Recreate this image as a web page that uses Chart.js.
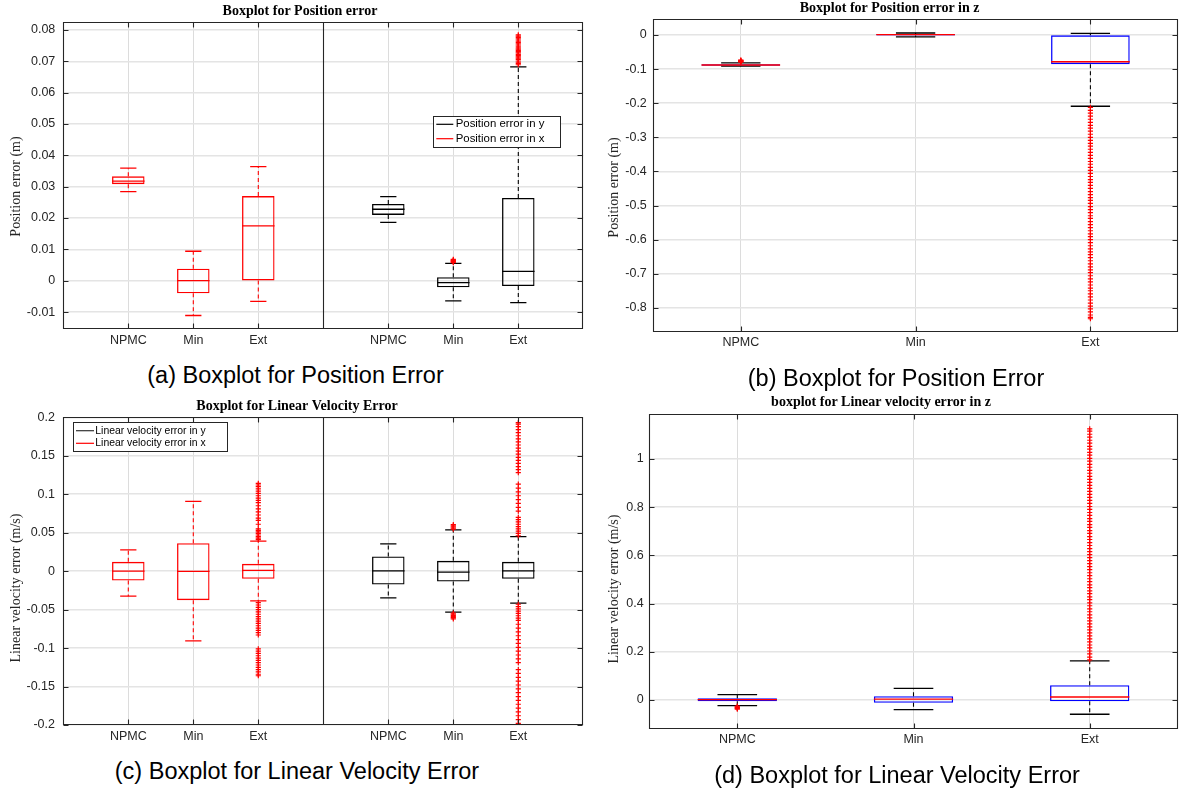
<!DOCTYPE html>
<html>
<head>
<meta charset="utf-8">
<script src="https://cdn.jsdelivr.net/npm/chart.js@4.4.1/dist/chart.umd.min.js"></script>
<style>
  html, body { margin: 0; padding: 0; background: #fff; }
  body { width: 1183px; height: 789px; position: relative; overflow: hidden; }
  canvas { position: absolute; }
  .caption {
    position: absolute; width: 500px; text-align: center; white-space: nowrap;
    font-family: 'Liberation Sans', Arial, Helvetica, sans-serif; font-size: 23.5px;
    line-height: 1; color: #000;
  }
</style>
</head>
<body>
<canvas id="cA" width="590" height="356" style="left:0;top:0"></canvas>
<canvas id="cB" width="593" height="356" style="left:590px;top:0"></canvas>
<canvas id="cC" width="590" height="365" style="left:0;top:390px"></canvas>
<canvas id="cD" width="608" height="365" style="left:575px;top:390px"></canvas>

<div class="caption" style="left:45.5px;top:363.5px">(a) Boxplot for Position Error</div>
<div class="caption" style="left:646px;top:366.5px">(b) Boxplot for Position Error</div>
<div class="caption" style="left:47px;top:759.5px">(c) Boxplot for Linear Velocity Error</div>
<div class="caption" style="left:647px;top:763.5px">(d) Boxplot for Linear Velocity Error</div>

<script>
// ---- Data -------------------------------------------------------------
// Each stats row: [lower whisker, Q1, median, Q3, upper whisker]
const CATEGORIES = ['NPMC', 'Min', 'Ext'];

// Position error (m), x component
const POS_X_STATS = [
  [0.0284, 0.0308, 0.0318, 0.0333, 0.0359],
  [-0.0111, -0.0040, 0.0000, 0.0038, 0.0094],
  [-0.0066, 0.0001, 0.0175, 0.0270, 0.0364]
];
const POS_X_OUTLIERS = [[], [], []];

// Position error (m), y component
const POS_Y_STATS = [
  [0.0186, 0.0210, 0.0228, 0.0245, 0.0268],
  [-0.0064, -0.0021, -0.0006, 0.0011, 0.0055],
  [-0.0070, -0.0017, 0.0030, 0.0264, 0.0682]
];
const POS_Y_OUTLIERS = [
  [],
  [0.0058, 0.0060, 0.0062, 0.0064, 0.0066, 0.0068],
  [0.0689, 0.0693, 0.0697, 0.0701, 0.0706, 0.0710, 0.0714, 0.0718, 0.0722, 0.0727,
   0.0731, 0.0735, 0.0739, 0.0743, 0.0748, 0.0752, 0.0756, 0.0760, 0.0764, 0.0768,
   0.0772, 0.0776, 0.0780, 0.0784]
];

// Position error (m), z component
const POS_Z_STATS = [
  [-0.0915, -0.0905, -0.0880, -0.0855, -0.0815],
  [-0.0058, -0.0018, 0.0008, 0.0030, 0.0058],
  [-0.2090, -0.0855, -0.0785, -0.0010, 0.0048]
];
const POS_Z_OUTLIERS = [
  [-0.0735, -0.0745, -0.0755, -0.0765, -0.0775, -0.0785, -0.0795],
  [],
  [-0.212, -0.221, -0.229, -0.238, -0.247, -0.256, -0.265, -0.273, -0.282, -0.291,
   -0.300, -0.309, -0.318, -0.326, -0.335, -0.344, -0.353, -0.362, -0.371, -0.379,
   -0.388, -0.397, -0.406, -0.415, -0.424, -0.432, -0.441, -0.450, -0.459, -0.468,
   -0.477, -0.485, -0.494, -0.503, -0.512, -0.521, -0.530, -0.538, -0.547, -0.556,
   -0.565, -0.574, -0.583, -0.591, -0.600, -0.609, -0.618, -0.627, -0.636, -0.644,
   -0.653, -0.662, -0.671, -0.680, -0.689, -0.697, -0.706, -0.715, -0.724, -0.733,
   -0.742, -0.750, -0.759, -0.768, -0.777, -0.786, -0.795, -0.803, -0.812, -0.821,
   -0.828, -0.832]
];

// Linear velocity error (m/s), x component
const VEL_X_STATS = [
  [-0.0325, -0.0121, 0.0000, 0.0121, 0.0277],
  [-0.0906, -0.0377, -0.0004, 0.0364, 0.0906],
  [-0.0386, -0.0100, 0.0010, 0.0095, 0.0390]
];
const VEL_X_OUTLIERS = [
  [],
  [],
  [0.041, 0.043, 0.045, 0.047, 0.049, 0.051, 0.053, 0.055, 0.061, 0.066, 0.069, 0.073,
   0.077, 0.081, 0.085, 0.089, 0.092, 0.095, 0.098, 0.101, 0.104, 0.107, 0.110, 0.112, 0.114,
   -0.041, -0.044, -0.047, -0.050, -0.053, -0.056, -0.059, -0.062, -0.065, -0.068, -0.071,
   -0.074, -0.077, -0.080, -0.083, -0.101, -0.104, -0.107, -0.110, -0.113, -0.116, -0.119,
   -0.122, -0.125, -0.128, -0.131, -0.134, -0.136]
];

// Linear velocity error (m/s), y component
const VEL_Y_STATS = [
  [-0.0347, -0.0173, 0.0004, 0.0190, 0.0355],
  [-0.0533, -0.0134, -0.0013, 0.0134, 0.0537],
  [-0.0416, -0.0100, 0.0004, 0.0121, 0.0450]
];
const VEL_Y_OUTLIERS = [
  [],
  [0.0545, 0.0560, 0.0575, 0.0590, 0.0605, -0.0545, -0.0560, -0.0575, -0.0590, -0.0605, -0.0620],
  [0.046, 0.049, 0.052, 0.055, 0.058, 0.061, 0.064, 0.067, 0.070, 0.078, 0.083, 0.088,
   0.093, 0.098, 0.103, 0.108, 0.113, 0.128, 0.132, 0.136, 0.140, 0.144, 0.148, 0.152,
   0.156, 0.160, 0.164, 0.168, 0.172, 0.176, 0.180, 0.184, 0.188, 0.191, 0.193,
   -0.043, -0.046, -0.049, -0.052, -0.055, -0.058, -0.061, -0.064, -0.069, -0.074, -0.079,
   -0.084, -0.089, -0.094, -0.099, -0.104, -0.109, -0.114, -0.119, -0.128, -0.133, -0.138,
   -0.143, -0.148, -0.153, -0.158, -0.163, -0.168, -0.173, -0.178, -0.183, -0.188, -0.193, -0.198]
];

// Linear velocity error (m/s), z component
const VEL_Z_STATS = [
  [-0.0235, -0.0055, 0.0014, 0.0070, 0.0220],
  [-0.0400, -0.0120, 0.0030, 0.0150, 0.0480],
  [-0.0595, -0.0055, 0.0120, 0.0610, 0.1620]
];
const VEL_Z_OUTLIERS = [
  [-0.026, -0.029, -0.032, -0.035, -0.038],
  [],
  [0.166, 0.178, 0.191, 0.203, 0.216, 0.228, 0.241, 0.253, 0.266, 0.278, 0.291, 0.303,
   0.316, 0.328, 0.341, 0.353, 0.366, 0.378, 0.391, 0.403, 0.416, 0.428, 0.441, 0.453,
   0.466, 0.478, 0.491, 0.503, 0.516, 0.528, 0.541, 0.553, 0.566, 0.578, 0.591, 0.603,
   0.616, 0.628, 0.641, 0.653, 0.666, 0.678, 0.691, 0.703, 0.716, 0.728, 0.741, 0.753,
   0.766, 0.778, 0.791, 0.803, 0.816, 0.828, 0.841, 0.853, 0.866, 0.878, 0.891, 0.903,
   0.916, 0.928, 0.941, 0.953, 0.966, 0.978, 0.991, 1.003, 1.016, 1.028, 1.041, 1.053,
   1.066, 1.078, 1.091, 1.103, 1.116, 1.125]
];

// Axis ticks
const Y_TICKS_POS = [-0.01, 0, 0.01, 0.02, 0.03, 0.04, 0.05, 0.06, 0.07, 0.08];
const Y_TICKS_POS_Z = [-0.8, -0.7, -0.6, -0.5, -0.4, -0.3, -0.2, -0.1, 0];
const Y_TICKS_VEL = [-0.2, -0.15, -0.1, -0.05, 0, 0.05, 0.1, 0.15, 0.2];
const Y_TICKS_VEL_Z = [0, 0.2, 0.4, 0.6, 0.8, 1];

// Category slots: split panels put the x-group at 1..3 and the y-group at 5..7
const SLOTS_LEFT = [1, 2, 3];
const SLOTS_RIGHT = [5, 6, 7];

// Legend texts
const LEGEND_POS = ['Position error in y', 'Position error in x'];
const LEGEND_VEL = ['Linear velocity error in y', 'Linear velocity error in x'];

// ---- Styling ------------------------------------------------------------
const SANS = "'Liberation Sans', Arial, Helvetica, sans-serif";
const SERIF = "'Liberation Serif', 'Times New Roman', Times, serif";
const TICK_FONT = { family: SANS, size: 12.5 };
const TITLE_FONT = { family: SERIF, size: 14, weight: 'bold', lineHeight: 1.2 };
const RED = '#ff0000', BLACK = '#000000', BLUE = '#0000ff';

const STYLE_RED = { box: RED, median: RED, whisker: RED, cap: RED, outlier: RED, width: 0.5, cap: RED, capWidth: 0.25 };
const STYLE_BLACK = { box: BLACK, median: BLACK, whisker: BLACK, cap: BLACK, outlier: RED, width: 0.5, capWidth: 0.25 };
const STYLE_DEFAULT = { box: BLUE, median: RED, whisker: BLACK, cap: BLACK, outlier: RED, width: 0.45, capWidth: 0.225 };

// Turn box statistics into Chart.js datasets: floating bars for the boxes,
// line segments for medians / whiskers / caps, cross points for outliers.
function boxDatasets(stats, outliers, slots, st) {
  const half = st.width / 2, capHalf = st.capWidth / 2;
  const boxes = [], med = [], whisk = [], caps = [], pts = [];
  stats.forEach((s, i) => {
    const c = slots[i];
    boxes.push({ x: c, y: [s[1], s[3]] });
    med.push({ x: c - half, y: s[2] }, { x: c + half, y: s[2] }, { x: c, y: null });
    whisk.push({ x: c, y: s[3] }, { x: c, y: s[4] }, { x: c, y: null },
               { x: c, y: s[1] }, { x: c, y: s[0] }, { x: c, y: null });
    caps.push({ x: c - capHalf, y: s[4] }, { x: c + capHalf, y: s[4] }, { x: c, y: null },
              { x: c - capHalf, y: s[0] }, { x: c + capHalf, y: s[0] }, { x: c, y: null });
    (outliers[i] || []).forEach(v => pts.push({ x: c, y: v }));
  });
  const seg = { type: 'line', pointRadius: 0, spanGaps: false, fill: false, tension: 0 };
  return [
    { type: 'scatter', data: pts, pointStyle: 'cross', pointRadius: 2.6,
      pointBorderColor: st.outlier, pointBorderWidth: 1.2, borderColor: st.outlier },
    Object.assign({ data: med, borderColor: st.median, borderWidth: 1.3 }, seg),
    Object.assign({ data: caps, borderColor: st.cap, borderWidth: 1.3 }, seg),
    Object.assign({ data: whisk, borderColor: st.whisker, borderWidth: 1.1, borderDash: [4, 3] }, seg),
    { type: 'bar', data: boxes, borderColor: st.box, backgroundColor: 'rgba(0,0,0,0)',
      borderWidth: 1.3, borderSkipped: false, grouped: false,
      barPercentage: st.width, categoryPercentage: 1 }
  ];
}

// Axes box, divider and inward tick marks
function framePlugin(o) {
  return {
    id: 'frame',
    afterDatasetsDraw(chart) {
      const { ctx, chartArea: a, scales: { x, y } } = chart;
      const L = Math.round(a.left) + 0.5, R = Math.round(a.right) - 0.5;
      const T = Math.round(a.top) + 0.5, B = Math.round(a.bottom) - 0.5;
      ctx.save();
      ctx.strokeStyle = '#262626';
      ctx.lineWidth = 1.1;
      ctx.beginPath();
      ctx.rect(L, T, R - L, B - T);
      if (o.divider != null) {
        const d = Math.round(x.getPixelForValue(o.divider)) + 0.5;
        ctx.moveTo(d, T); ctx.lineTo(d, B);
      }
      y.ticks.forEach(t => {
        const py = Math.round(y.getPixelForValue(t.value)) + 0.5;
        if (o.left) { ctx.moveTo(L, py); ctx.lineTo(L + 5, py); }
        if (o.right) { ctx.moveTo(R, py); ctx.lineTo(R - 5, py); }
      });
      x.ticks.forEach(t => {
        const px = Math.round(x.getPixelForValue(t.value)) + 0.5;
        ctx.moveTo(px, B); ctx.lineTo(px, B - 5);
        ctx.moveTo(px, T); ctx.lineTo(px, T + 5);
      });
      ctx.stroke();
      ctx.restore();
    }
  };
}

// Boxed legend inside the axes
function legendPlugin(o) {
  return {
    id: 'boxLegend',
    afterDatasetsDraw(chart) {
      const ctx = chart.ctx;
      ctx.save();
      ctx.fillStyle = '#fff';
      ctx.fillRect(o.left, o.top, o.width, o.height);
      ctx.strokeStyle = '#262626';
      ctx.lineWidth = 1;
      ctx.strokeRect(Math.round(o.left) + 0.5, Math.round(o.top) + 0.5, Math.round(o.width), Math.round(o.height));
      ctx.font = o.size + 'px ' + SANS;
      ctx.textBaseline = 'middle';
      ctx.textAlign = 'left';
      o.labels.forEach((txt, i) => {
        const yy = o.rows[i];
        ctx.strokeStyle = o.colors[i];
        ctx.lineWidth = 1.2;
        ctx.beginPath();
        ctx.moveTo(o.lineFrom, yy); ctx.lineTo(o.lineTo, yy);
        ctx.stroke();
        ctx.fillStyle = '#000';
        ctx.fillText(txt, o.textX, yy);
      });
      ctx.restore();
    }
  };
}

// Rotated y-axis label
function sideLabelPlugin(o) {
  return {
    id: 'sideLabel',
    afterDraw(chart) {
      const ctx = chart.ctx;
      ctx.save();
      ctx.translate(o.x, o.y);
      ctx.rotate(-Math.PI / 2);
      ctx.font = '14px ' + SERIF;
      ctx.fillStyle = '#262626';
      ctx.textAlign = 'center';
      ctx.textBaseline = 'middle';
      ctx.fillText(o.text, 0, 0);
      ctx.restore();
    }
  };
}

function buildPanel(p) {
  const xLabels = p.xTicks.length > 3 ? CATEGORIES.concat(CATEGORIES) : CATEGORIES;
  const plugins = [framePlugin(p.frame), sideLabelPlugin(p.ylabel)];
  if (p.legend) plugins.push(legendPlugin(p.legend));
  return new Chart(document.getElementById(p.id), {
    type: 'scatter',
    data: { datasets: p.datasets },
    options: {
      responsive: false,
      animation: false,
      events: [],
      devicePixelRatio: 1,
      layout: { padding: { left: p.padL, right: p.padR, top: 0, bottom: 0 } },
      plugins: {
        legend: { display: false },
        tooltip: { enabled: false },
        title: { display: true, text: p.title, font: TITLE_FONT, color: '#000', padding: p.titlePad }
      },
      scales: {
        x: {
          type: 'linear', min: p.xMin, max: p.xMax, offset: false,
          afterBuildTicks: s => { s.ticks = p.xTicks.map(v => ({ value: v })); },
          afterFit: s => { s.height = p.xAxisH; },
          ticks: { autoSkip: false, maxRotation: 0, padding: p.xTickPad, font: TICK_FONT, color: '#262626',
                   callback: v => xLabels[p.xTicks.indexOf(v)] },
          grid: { color: '#dcdcdc', lineWidth: 1, drawTicks: false, offset: false },
          border: { display: false }
        },
        y: {
          type: 'linear', min: p.yMin, max: p.yMax,
          afterBuildTicks: s => { s.ticks = p.yTicks.map(v => ({ value: v })); },
          afterFit: s => { s.width = p.yAxisW; },
          ticks: { autoSkip: false, padding: p.yTickPad, font: TICK_FONT, color: '#262626',
                   callback: v => String(v) },
          grid: { color: '#e4e4e4', lineWidth: 1.5, drawTicks: false },
          border: { display: false }
        }
      }
    },
    plugins
  });
}

// (a) position error, x and y
buildPanel({
  id: 'cA', title: 'Boxplot for Position error',
  padL: 16.7, padR: 6.7, yAxisW: 46.6, xAxisH: 26.7, titlePad: { top: 3, bottom: 2 },
  xMin: 0, xMax: 8, xTicks: SLOTS_LEFT.concat(SLOTS_RIGHT), xTickPad: 4.2,
  yMin: -0.0155, yMax: 0.0826, yTicks: Y_TICKS_POS, yTickPad: 8,
  frame: { left: true, right: true, divider: 4 },
  ylabel: { text: 'Position error (m)', x: 16.7, y: 186.5 },
  legend: { left: 433.3, top: 116.3, width: 127.4, height: 30.7, size: 11.4,
            rows: [124.3, 138.7], lineFrom: 436.3, lineTo: 453.3, textX: 455.7,
            labels: LEGEND_POS, colors: [BLACK, RED] },
  datasets: boxDatasets(POS_X_STATS, POS_X_OUTLIERS, SLOTS_LEFT, STYLE_RED)
    .concat(boxDatasets(POS_Y_STATS, POS_Y_OUTLIERS, SLOTS_RIGHT, STYLE_BLACK))
});

// (b) position error, z
buildPanel({
  id: 'cB', title: 'Boxplot for Position error in z',
  padL: 8.6, padR: 2.4, yAxisW: 54.8, xAxisH: 24.3, titlePad: { top: 0.3, bottom: 2.2 },
  xMin: 0.5, xMax: 3.5, xTicks: SLOTS_LEFT, xTickPad: 3.8,
  yMin: -0.87, yMax: 0.046, yTicks: Y_TICKS_POS_Z, yTickPad: 6.6,
  frame: { left: true, right: true },
  ylabel: { text: 'Position error (m)', x: 24.5, y: 187.5 },
  datasets: boxDatasets(POS_Z_STATS, POS_Z_OUTLIERS, SLOTS_LEFT, STYLE_DEFAULT)
});

// (c) linear velocity error, x and y
buildPanel({
  id: 'cC', title: 'Boxplot for Linear Velocity Error',
  padL: 10.7, padR: 6.7, yAxisW: 52.6, xAxisH: 30, titlePad: { top: 7.6, bottom: 2.9 },
  xMin: 0, xMax: 8, xTicks: SLOTS_LEFT.concat(SLOTS_RIGHT), xTickPad: 4.5,
  yMin: -0.2, yMax: 0.2, yTicks: Y_TICKS_VEL, yTickPad: 8.3,
  frame: { left: true, right: true, divider: 4 },
  ylabel: { text: 'Linear velocity error (m/s)', x: 16.7, y: 198 },
  legend: { left: 73.3, top: 32.3, width: 153.7, height: 28.7, size: 10.4,
            rows: [40.7, 53.3], lineFrom: 76, lineTo: 94, textX: 95.3,
            labels: LEGEND_VEL, colors: ['#333333', RED] },
  datasets: boxDatasets(VEL_X_STATS, VEL_X_OUTLIERS, SLOTS_LEFT, STYLE_RED)
    .concat(boxDatasets(VEL_Y_STATS, VEL_Y_OUTLIERS, SLOTS_RIGHT, STYLE_BLACK))
});

// (d) linear velocity error, z
buildPanel({
  id: 'cD', title: 'boxplot for Linear velocity error in z',
  padL: 6.4, padR: 2.4, yAxisW: 67.8, xAxisH: 25.7, titlePad: { top: 4.1, bottom: 3.1 },
  xMin: 0.5, xMax: 3.5, xTicks: SLOTS_LEFT, xTickPad: 3.2,
  yMin: -0.122, yMax: 1.187, yTicks: Y_TICKS_VEL_Z, yTickPad: 5.5,
  frame: { left: true, right: true },
  ylabel: { text: 'Linear velocity error (m/s)', x: 39.5, y: 199 },
  datasets: boxDatasets(VEL_Z_STATS, VEL_Z_OUTLIERS, SLOTS_LEFT, STYLE_DEFAULT)
});
</script>
</body>
</html>
